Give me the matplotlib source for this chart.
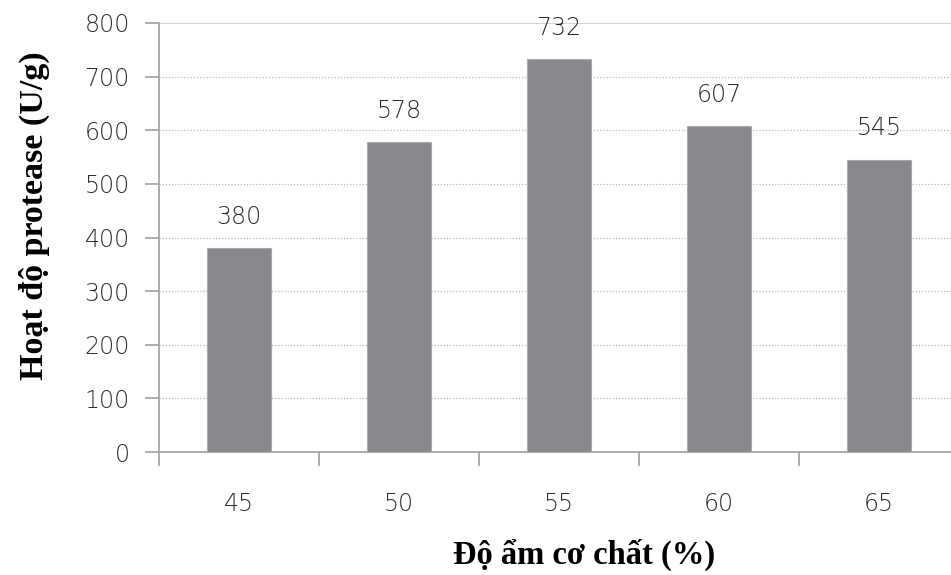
import numpy as np
import matplotlib.pyplot as plt

# Độ ẩm cơ chất (%) và hoạt độ protease (U/g)
do_am = ['45', '50', '55', '60', '65']
hoat_do = [380, 578, 732, 607, 545]
yticks = [0, 100, 200, 300, 400, 500, 600, 700, 800]

fig = plt.figure(figsize=(9.51, 5.75), dpi=100)
ax = fig.add_axes([159 / 951, 1 - 452 / 575, 800 / 951, (452 - 23) / 575])

x = np.arange(len(do_am))
bars = ax.bar(x, hoat_do, width=0.405, color='#88898d', edgecolor='#a9aaad',
              linewidth=0.8, zorder=3)

for xi, v in zip(x, hoat_do):
    ax.text(xi, v + 36, str(v), ha='center', va='bottom', fontsize=17,
            color='#2a2a2a', family='DejaVu Sans', fontweight='light',
            zorder=4)

ax.set_xlim(-0.5, 4.5)
ax.set_ylim(0, 800)
ax.set_yticks(yticks)
ax.set_yticklabels([str(t) for t in yticks], fontweight='light')

# nhãn trục x nằm giữa các vạch chia
ax.set_xticks(np.arange(-0.5, 5, 1.0))
ax.set_xticklabels([])
ax.set_xticks(x, minor=True)
ax.set_xticklabels(do_am, minor=True, fontweight='light')
ax.tick_params(axis='x', which='major', direction='out', length=10,
               color='#a0a0a0', width=1.2)
ax.tick_params(axis='x', which='minor', length=0, pad=29, labelsize=17,
               labelcolor='#2e2e2e')
ax.tick_params(axis='y', direction='out', length=10, color='#a0a0a0',
               width=1.2, pad=11, labelsize=17, labelcolor='#2e2e2e')

for t in [100, 200, 300, 400, 500, 600, 700]:
    ax.axhline(t, color='#b8b8b8', linestyle=(0, (1, 1.5)), linewidth=0.9,
               zorder=1)
ax.axhline(800, color='#d4d4d4', linewidth=1.5, zorder=1)

for s in ['top', 'right']:
    ax.spines[s].set_visible(False)
ax.spines['left'].set_color('#a0a0a0')
ax.spines['bottom'].set_color('#a0a0a0')
ax.spines['left'].set_linewidth(1.2)
ax.spines['bottom'].set_linewidth(1.2)

fig.text(584 / 951, 1 - 555 / 575, 'Độ ẩm cơ chất (%)', ha='center',
         va='center', fontsize=23.5, fontweight='bold', family='Liberation Serif')
fig.text(34 / 951, 1 - 216 / 575, 'Hoạt độ protease (U/g)', ha='center',
         va='center', rotation=90, fontsize=24.5, fontweight='bold',
         family='Liberation Serif')

fig.savefig('out.png', dpi=100)
